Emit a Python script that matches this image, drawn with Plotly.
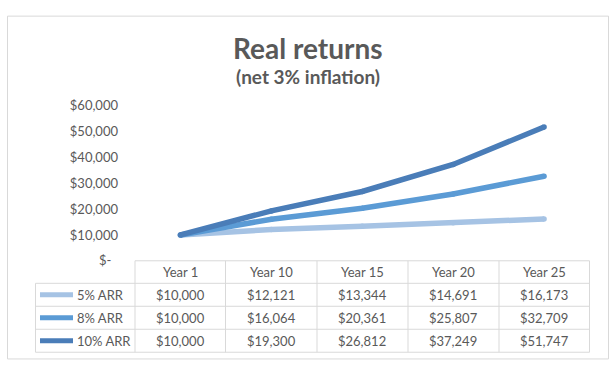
import plotly.graph_objects as go

# ---------------- data ----------------
categories = ["Year 1", "Year 10", "Year 15", "Year 20", "Year 25"]
series_names = ["5% ARR", "8% ARR", "10% ARR"]
arr5 = [10000, 12121, 13344, 14691, 16173]
arr8 = [10000, 16064, 20361, 25807, 32709]
arr10 = [10000, 19300, 26812, 37249, 51747]
y_tick_values = [0, 10000, 20000, 30000, 40000, 50000, 60000]
y_tick_labels = ["$-\u00a0\u00a0", "$10,000", "$20,000", "$30,000", "$40,000", "$50,000", "$60,000"]
title_text = "Real returns"
subtitle_text = "(net 3% inflation)"

series_values = [arr5, arr8, arr10]
colors = ["#A6C3E4", "#5B9BD5", "#4A7DB8"]

# ---------------- layout helpers ----------------
W, H = 616, 377
FONT = "Lato"
TXT = "#595959"
GRID = "#D9D9D9"


def px(x):
    return x / W


def py(y):
    return 1 - y / H


fig = go.Figure()

for name, vals, col in zip(series_names, series_values, colors):
    fig.add_trace(go.Scatter(
        x=categories, y=vals, name=name, mode="lines+markers",
        line=dict(color=col, width=5.5),
        marker=dict(color=col, size=5.5),
        showlegend=False, hoverinfo="skip",
    ))

shapes = []
annotations = []

# outer chart border
shapes.append(dict(type="rect", xref="paper", yref="paper",
                   x0=px(7.5), x1=px(608.5), y0=py(366.5), y1=py(8.5),
                   line=dict(color=GRID, width=1)))

# table geometry
col_edges = [135, 225.5, 317, 408, 499, 589.5]
row_edges = [264, 287.5, 311.5, 335.5, 359.5]
legend_left = 35.5

# horizontal lines
shapes.append(dict(type="line", xref="paper", yref="paper",
                   x0=px(col_edges[0]), x1=px(col_edges[-1]),
                   y0=py(row_edges[0]), y1=py(row_edges[0]),
                   line=dict(color=GRID, width=1)))
for r in row_edges[1:]:
    shapes.append(dict(type="line", xref="paper", yref="paper",
                       x0=px(legend_left), x1=px(col_edges[-1]),
                       y0=py(r), y1=py(r), line=dict(color=GRID, width=1)))
# vertical lines
shapes.append(dict(type="line", xref="paper", yref="paper",
                   x0=px(legend_left), x1=px(legend_left),
                   y0=py(row_edges[1]), y1=py(row_edges[-1]),
                   line=dict(color=GRID, width=1)))
for c in col_edges:
    shapes.append(dict(type="line", xref="paper", yref="paper",
                       x0=px(c), x1=px(c),
                       y0=py(row_edges[0]), y1=py(row_edges[-1]),
                       line=dict(color=GRID, width=1)))

# header row (category names)
hdr_y = (row_edges[0] + row_edges[1]) / 2
for cat in categories:
    annotations.append(dict(x=cat, xref="x", y=py(hdr_y), yref="paper",
                            text=cat, showarrow=False, xanchor="center", yanchor="middle",
                            font=dict(family=FONT, size=13, color=TXT)))

# data rows with legend keys
for i, (name, vals, col) in enumerate(zip(series_names, series_values, colors)):
    cy = (row_edges[i + 1] + row_edges[i + 2]) / 2
    shapes.append(dict(type="line", xref="paper", yref="paper",
                       x0=px(40), x1=px(73), y0=py(cy), y1=py(cy),
                       line=dict(color=col, width=5)))
    annotations.append(dict(x=px(74.5), xref="paper", y=py(cy), yref="paper",
                            text=name, showarrow=False, xanchor="left", yanchor="middle",
                            font=dict(family=FONT, size=13, color=TXT)))
    for cat, v in zip(categories, vals):
        annotations.append(dict(x=cat, xref="x", y=py(cy), yref="paper",
                                text=f"${v:,}", showarrow=False,
                                xanchor="center", yanchor="middle",
                                font=dict(family=FONT, size=13, color=TXT)))

# titles
annotations.append(dict(x=0.5, xref="paper", y=py(42), yref="paper",
                        text=f"<b>{title_text}</b>", showarrow=False,
                        xanchor="center", yanchor="middle",
                        font=dict(family=FONT, size=28, color=TXT)))
annotations.append(dict(x=0.5, xref="paper", y=py(72), yref="paper",
                        text=f"<b>{subtitle_text}</b>", showarrow=False,
                        xanchor="center", yanchor="middle",
                        font=dict(family=FONT, size=19, color=TXT)))

fig.update_layout(
    width=W, height=H,
    margin=dict(l=0, r=0, t=0, b=0),
    paper_bgcolor="white", plot_bgcolor="white",
    shapes=shapes, annotations=annotations,
    xaxis=dict(type="category", range=[-0.5, 4.5],
               domain=[px(135), px(589.5)],
               showticklabels=False, showgrid=False, zeroline=False,
               showline=False, ticks=""),
    yaxis=dict(range=[0, 60000], domain=[py(264), py(102)],
               tickvals=y_tick_values, ticktext=y_tick_labels,
               tickfont=dict(family=FONT, size=13, color=TXT),
               showgrid=False, zeroline=False, showline=False,
               ticks="", ticklabelstandoff=16),
)

fig.write_html(
    "out.html",
    post_script="document.body.style.margin='0';"
                "document.documentElement.style.overflow='hidden';",
)
